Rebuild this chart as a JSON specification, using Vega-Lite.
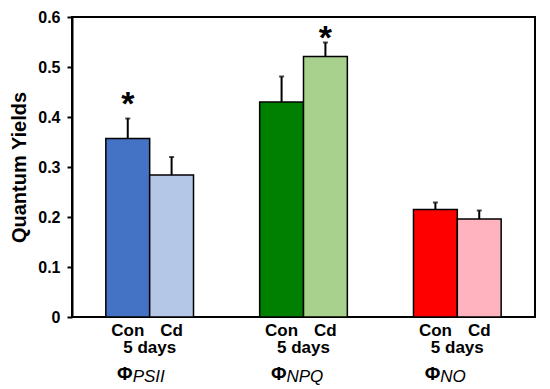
{
  "$schema": "https://vega.github.io/schema/vega-lite/v6.json",
  "width": 463,
  "height": 300,
  "autosize": {"type": "none"},
  "padding": {"left": 72, "top": 17, "right": 15, "bottom": 72},
  "background": "white",
  "config": {
    "view": {"stroke": "black", "strokeWidth": 2},
    "font": "Liberation Sans"
  },
  "datasets": {
    "bars": [
      {"group": "PSII", "treat": "Con", "key": "PSII-Con", "value": 0.357, "upper": 0.397},
      {"group": "PSII", "treat": "Cd", "key": "PSII-Cd", "value": 0.284, "upper": 0.320},
      {"group": "NPQ", "treat": "Con", "key": "NPQ-Con", "value": 0.430, "upper": 0.481},
      {"group": "NPQ", "treat": "Cd", "key": "NPQ-Cd", "value": 0.521, "upper": 0.549},
      {"group": "NO", "treat": "Con", "key": "NO-Con", "value": 0.215, "upper": 0.229},
      {"group": "NO", "treat": "Cd", "key": "NO-Cd", "value": 0.196, "upper": 0.213}
    ],
    "stars": [
      {"group": "PSII", "treat": "Con", "y": 0.44, "label": "*"},
      {"group": "NPQ", "treat": "Cd", "y": 0.572, "label": "*"}
    ]
  },
  "data": {"name": "bars"},
  "encoding": {
    "x": {
      "field": "group",
      "type": "nominal",
      "sort": ["PSII", "NPQ", "NO"],
      "scale": {"paddingInner": 0.43, "paddingOuter": 0.22},
      "axis": null
    }
  },
  "layer": [
    {
      "mark": {"type": "bar", "stroke": "black", "strokeWidth": 1.5},
      "encoding": {
        "xOffset": {"field": "treat", "type": "nominal", "sort": ["Con", "Cd"], "scale": {"paddingInner": 0, "paddingOuter": 0}},
        "y": {
          "field": "value",
          "type": "quantitative",
          "scale": {"domain": [0, 0.6], "nice": false},
          "axis": {
            "title": "Quantum Yields",
            "titleFont": "Liberation Sans",
            "titleFontSize": 20,
            "titleFontWeight": "bold",
            "titleColor": "black",
            "titlePadding": 8,
            "values": [0, 0.1, 0.2, 0.3, 0.4, 0.5, 0.6],
            "format": ".1~f",
            "labelFont": "Liberation Sans",
            "labelFontSize": 16,
            "labelFontWeight": "bold",
            "labelColor": "black",
            "labelPadding": 7,
            "grid": false,
            "domainColor": "black",
            "domainWidth": 2,
            "tickColor": "black",
            "tickWidth": 2,
            "tickSize": 5
          }
        },
        "color": {
          "field": "key",
          "type": "nominal",
          "scale": {
            "domain": ["PSII-Con", "PSII-Cd", "NPQ-Con", "NPQ-Cd", "NO-Con", "NO-Cd"],
            "range": ["#4472C4", "#B4C7E7", "#008000", "#A9D18E", "#FF0000", "#FFB3BE"]
          },
          "legend": null
        }
      }
    },
    {
      "mark": {"type": "rule", "color": "black", "strokeWidth": 2},
      "encoding": {
        "xOffset": {"field": "treat", "type": "nominal", "sort": ["Con", "Cd"]},
        "y": {"field": "value", "type": "quantitative"},
        "y2": {"field": "upper"}
      }
    },
    {
      "mark": {"type": "tick", "color": "black", "thickness": 2, "size": 5, "orient": "horizontal"},
      "encoding": {
        "xOffset": {"field": "treat", "type": "nominal", "sort": ["Con", "Cd"]},
        "y": {"field": "upper", "type": "quantitative"}
      }
    },
    {
      "mark": {"type": "text", "fontSize": 17, "fontWeight": "bold", "color": "black", "baseline": "middle"},
      "encoding": {
        "xOffset": {"field": "treat", "type": "nominal", "sort": ["Con", "Cd"]},
        "y": {"datum": -0.028},
        "text": {"field": "treat"}
      }
    },
    {
      "transform": [{"filter": "datum.treat == 'Con'"}],
      "mark": {"type": "text", "fontSize": 17, "fontWeight": "bold", "color": "black", "baseline": "middle"},
      "encoding": {
        "y": {"datum": -0.062},
        "text": {"value": "5 days"}
      }
    },
    {
      "transform": [{"filter": "datum.treat == 'Con'"}],
      "mark": {"type": "text", "fontSize": 19, "fontWeight": "bold", "color": "black", "baseline": "middle", "align": "right", "dx": -17},
      "encoding": {
        "y": {"datum": -0.113},
        "text": {"value": "Φ"}
      }
    },
    {
      "transform": [{"filter": "datum.treat == 'Con'"}],
      "mark": {"type": "text", "fontSize": 17, "fontStyle": "italic", "color": "black", "baseline": "middle", "align": "left", "dx": -17},
      "encoding": {
        "y": {"datum": -0.119},
        "text": {"field": "group"}
      }
    },
    {
      "data": {"name": "stars"},
      "mark": {"type": "text", "fontSize": 34, "fontWeight": "bold", "color": "black", "baseline": "middle", "dy": 8},
      "encoding": {
        "xOffset": {"field": "treat", "type": "nominal", "sort": ["Con", "Cd"]},
        "y": {"field": "y", "type": "quantitative"},
        "text": {"field": "label"}
      }
    }
  ]
}
